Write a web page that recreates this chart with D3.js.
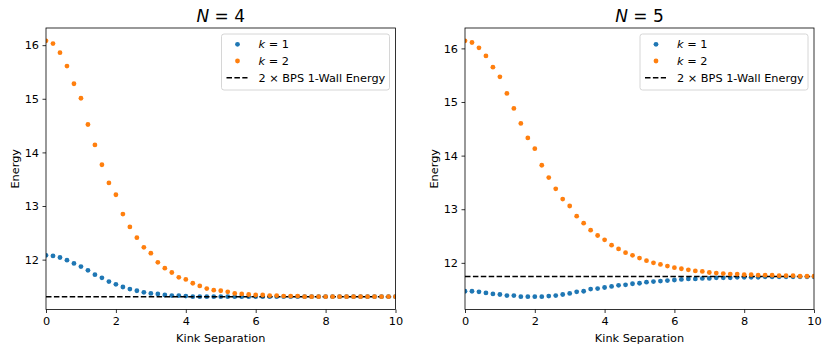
<!DOCTYPE html>
<html><head><meta charset="utf-8">
<script src="https://cdn.jsdelivr.net/npm/d3@7"></script>
<style>body{margin:0;background:#fff}text{font-family:"DejaVu Sans",sans-serif;fill:#000}</style>
</head><body><svg id="c" width="830" height="353"></svg>
<script>
const xs = [0,0.2,0.4,0.6,0.8,1,1.2,1.4,1.6,1.8,2,2.2,2.4,2.6,2.8,3,3.2,3.4,3.6,3.8,4,4.2,4.4,4.6,4.8,5,5.2,5.4,5.6,5.8,6,6.2,6.4,6.6,6.8,7,7.2,7.4,7.6,7.8,8,8.2,8.4,8.6,8.8,9,9.2,9.4,9.6,9.8,10];
const n4k1 = [12.08,12.07,12.04,11.99,11.93,11.87,11.80,11.72,11.66,11.59,11.54,11.49,11.45,11.42,11.39,11.37,11.36,11.34,11.33,11.33,11.32,11.31,11.31,11.31,11.31,11.31,11.31,11.31,11.31,11.31,11.31,11.31,11.31,11.31,11.31,11.31,11.31,11.31,11.31,11.31,11.31,11.31,11.31,11.31,11.31,11.31,11.31,11.31,11.31,11.31,11.31];
const n4k2 = [16.08,16.03,15.86,15.61,15.28,15.01,14.52,14.14,13.77,13.43,13.21,12.85,12.61,12.41,12.23,12.12,11.95,11.84,11.76,11.67,11.63,11.56,11.51,11.46,11.43,11.42,11.40,11.37,11.36,11.35,11.34,11.34,11.33,11.33,11.32,11.32,11.32,11.31,11.31,11.31,11.31,11.31,11.31,11.31,11.31,11.31,11.31,11.31,11.31,11.31,11.31];
const n5k1 = [11.47,11.47,11.46,11.44,11.42,11.41,11.39,11.39,11.37,11.37,11.37,11.37,11.38,11.39,11.41,11.43,11.46,11.47,11.51,11.52,11.54,11.56,11.58,11.59,11.61,11.62,11.64,11.65,11.66,11.67,11.68,11.69,11.70,11.70,11.71,11.71,11.72,11.72,11.72,11.73,11.73,11.73,11.73,11.74,11.74,11.74,11.74,11.74,11.74,11.74,11.74];
const n5k2 = [16.14,16.11,16.01,15.86,15.65,15.47,15.16,14.88,14.60,14.33,14.13,13.82,13.59,13.38,13.19,13.06,12.87,12.74,12.61,12.51,12.43,12.33,12.26,12.19,12.14,12.09,12.04,12.00,11.97,11.94,11.91,11.89,11.87,11.85,11.84,11.82,11.81,11.80,11.79,11.79,11.78,11.78,11.77,11.77,11.77,11.76,11.76,11.76,11.75,11.75,11.75];
const wallEnergy = [11.31, 11.745];
const titles = ["4", "5"];
const yDomains = [[11.07, 16.32], [11.13, 16.38]];
const xTicks = [0, 2, 4, 6, 8, 10];
const yTicks = [12, 13, 14, 15, 16];
const legendLabels = ["1", "2", "2 \u00d7 BPS 1-Wall Energy"];
const colors = ["#1f77b4", "#ff7f0e"];

const panels = [
  {k1: n4k1, k2: n4k2, wall: wallEnergy[0], title: titles[0], yd: yDomains[0], x0: 46, x1: 395.5},
  {k1: n5k1, k2: n5k2, wall: wallEnergy[1], title: titles[1], yd: yDomains[1], x0: 465, x1: 814}
];
const plotTop = 28, plotBottom = 309.5;
const fs = 11.3;
const svg = d3.select("#c");

panels.forEach((p, i) => {
  const x = d3.scaleLinear().domain([0, 10]).range([p.x0, p.x1]);
  const y = d3.scaleLinear().domain(p.yd).range([plotBottom, plotTop]);
  const g = svg.append("g");
  const cid = "clip" + i;
  svg.append("clipPath").attr("id", cid).append("rect")
    .attr("x", p.x0).attr("y", plotTop).attr("width", p.x1 - p.x0).attr("height", plotBottom - plotTop);
  const plot = g.append("g").attr("clip-path", `url(#${cid})`);
  plot.append("g").selectAll("circle").data(xs).join("circle")
    .attr("cx", d => x(d)).attr("cy", (d, j) => y(p.k1[j])).attr("r", 2.4).attr("fill", colors[0]);
  plot.append("line").attr("x1", p.x0).attr("x2", p.x1).attr("y1", y(p.wall)).attr("y2", y(p.wall))
    .attr("stroke", "#000").attr("stroke-width", 1.5).attr("stroke-dasharray", "5.5,2.4");
  plot.append("g").selectAll("circle").data(xs).join("circle")
    .attr("cx", d => x(d)).attr("cy", (d, j) => y(p.k2[j])).attr("r", 2.4).attr("fill", colors[1]);

  const xa = g.append("g").attr("transform", `translate(0,${plotBottom})`)
    .call(d3.axisBottom(x).tickValues(xTicks).tickSize(3.5).tickPadding(3.5).tickFormat(d3.format("d")));
  const ya = g.append("g").attr("transform", `translate(${p.x0},0)`)
    .call(d3.axisLeft(y).tickValues(yTicks).tickSize(3.5).tickPadding(3.5).tickFormat(d3.format("d")));
  [xa, ya].forEach(a => {
    a.select(".domain").remove();
    a.selectAll("text").attr("font-size", fs).attr("font-family", "DejaVu Sans");
    a.selectAll("line").attr("stroke", "#000").attr("stroke-width", 0.8);
  });
  g.append("rect").attr("x", p.x0).attr("y", plotTop).attr("width", p.x1 - p.x0).attr("height", plotBottom - plotTop)
    .attr("fill", "none").attr("stroke", "#000").attr("stroke-width", 0.8);

  const cx = (p.x0 + p.x1) / 2;
  const t = g.append("text").attr("x", cx).attr("y", 22).attr("text-anchor", "middle").attr("font-size", 17);
  t.append("tspan").attr("font-style", "italic").text("N");
  t.append("tspan").text(" = " + p.title);

  g.append("text").attr("x", cx).attr("y", 341.5).attr("text-anchor", "middle").attr("font-size", fs).text("Kink Separation");
  g.append("text").attr("transform", `translate(${p.x0 - 27},${(plotTop + plotBottom) / 2}) rotate(-90)`)
    .attr("text-anchor", "middle").attr("font-size", fs).text("Energy");

  // legend
  const lx = p.x1 - 174, ly = 34;
  const lg = g.append("g");
  lg.append("rect").attr("x", lx).attr("y", ly).attr("width", 168).attr("height", 56).attr("rx", 2.5)
    .attr("fill", "#fff").attr("fill-opacity", 0.8).attr("stroke", "#ccc").attr("stroke-width", 0.8);
  [0, 1].forEach(j => {
    const yy = ly + 10.3 + j * 16.7;
    lg.append("circle").attr("cx", lx + 16).attr("cy", yy).attr("r", 2.4).attr("fill", colors[j]);
    const tt = lg.append("text").attr("x", lx + 37).attr("y", yy + 4).attr("font-size", fs);
    tt.append("tspan").attr("font-style", "italic").text("k");
    tt.append("tspan").text(" = " + legendLabels[j]);
  });
  const yy = ly + 10.3 + 2 * 16.7;
  lg.append("line").attr("x1", lx + 5).attr("x2", lx + 26).attr("y1", yy).attr("y2", yy)
    .attr("stroke", "#000").attr("stroke-width", 1.5).attr("stroke-dasharray", "5.5,2.4");
  lg.append("text").attr("x", lx + 37).attr("y", yy + 4).attr("font-size", fs).text(legendLabels[2]);
});
</script></body></html>
